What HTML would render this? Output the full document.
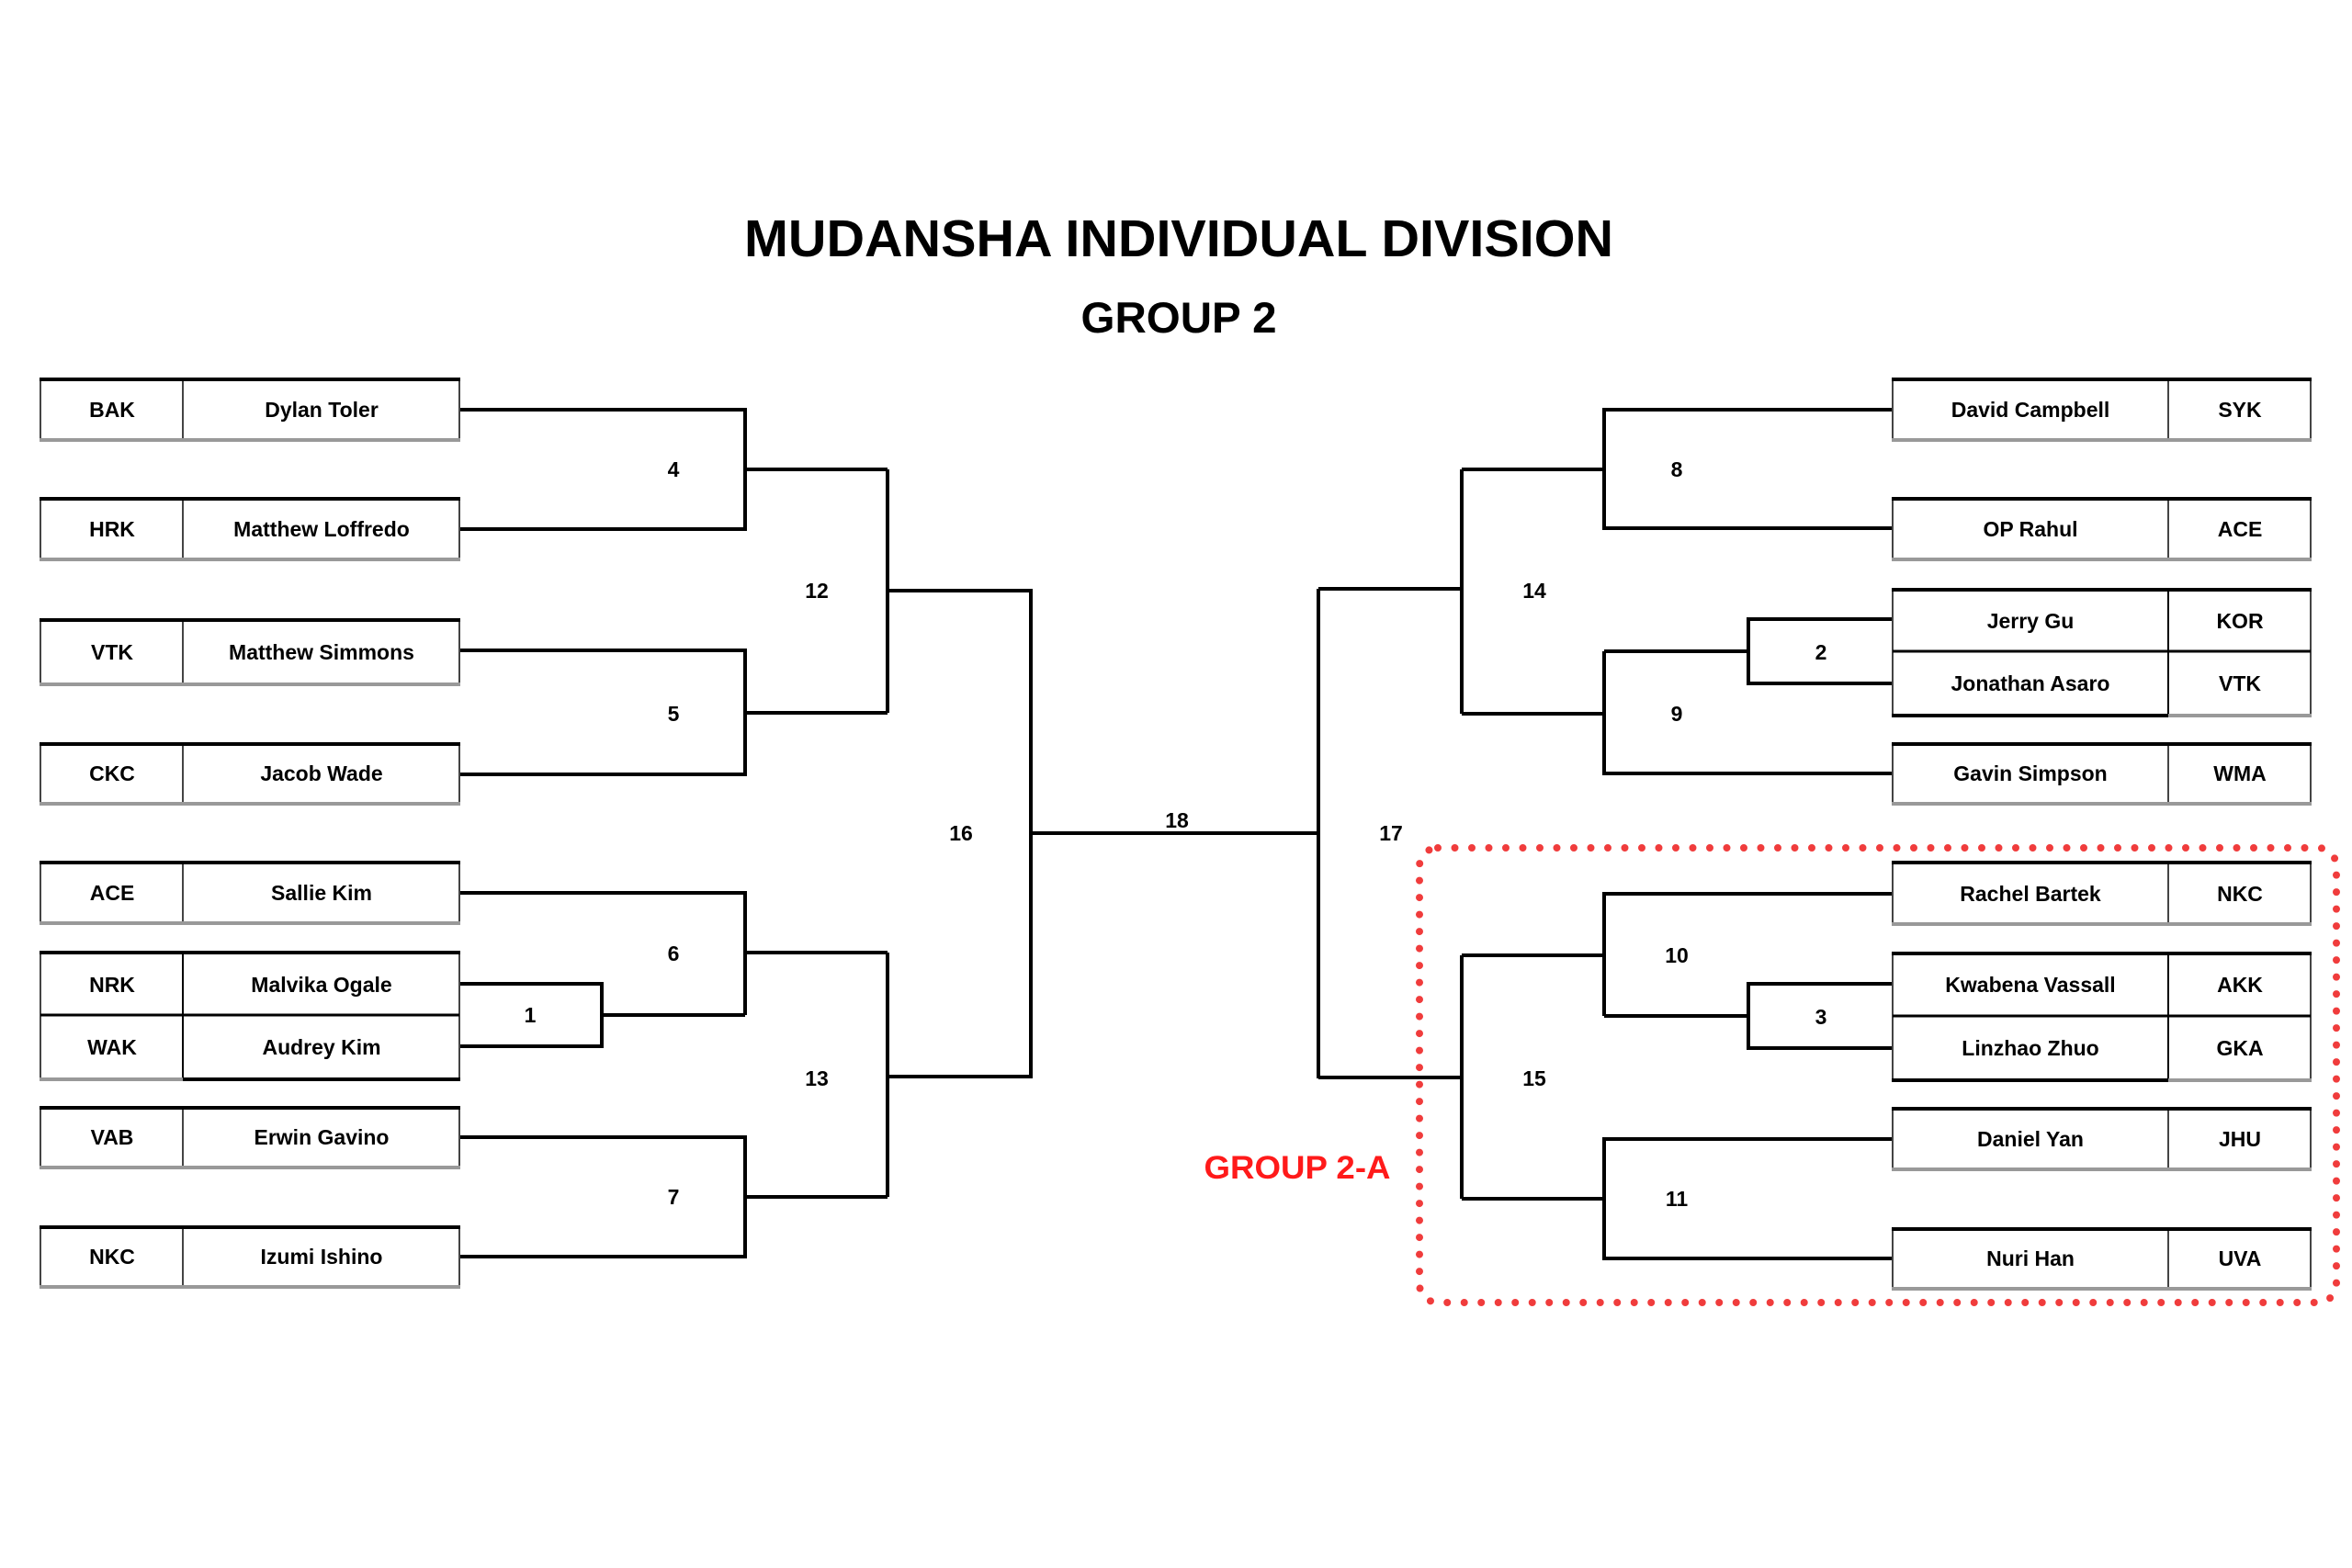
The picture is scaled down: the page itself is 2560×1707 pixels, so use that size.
<!DOCTYPE html>
<html><head><meta charset="utf-8"><style>
html,body{margin:0;padding:0;background:#fff;width:2560px;height:1707px;overflow:hidden}
svg{display:block}
text{font-family:"Liberation Sans",Arial,sans-serif;font-weight:bold;fill:#000}
</style></head><body>
<svg width="2560" height="1707" viewBox="0 0 2560 1707" xmlns="http://www.w3.org/2000/svg">
<text x="1283" y="279" font-size="57" text-anchor="middle" textLength="946" lengthAdjust="spacingAndGlyphs">MUDANSHA INDIVIDUAL DIVISION</text>
<text x="1283" y="362" font-size="47" text-anchor="middle" textLength="213" lengthAdjust="spacingAndGlyphs">GROUP 2</text>

<g fill="none" stroke="#000" stroke-width="4">
<!-- left bracket -->
<path d="M500 446H811V576H500M811 511H966"/>
<path d="M500 708H811V843H500M811 776H966"/>
<path d="M966 511V776M966 643H1122"/>
<path d="M500 1071H655V1139H500M655 1105H811"/>
<path d="M500 972H811V1105M811 1037H966"/>
<path d="M500 1238H811V1368H500M811 1303H966"/>
<path d="M966 1037V1303M966 1172H1122"/>
<path d="M1122 641V1174M1122 907H1435M1435 641V1174"/>
<!-- right bracket -->
<path d="M1435 641H1591M1591 511V777"/>
<path d="M2060 446H1746V575H2060M1746 511H1591"/>
<path d="M2060 674H1903V744H2060M1903 709H1746"/>
<path d="M1746 709V842H2060M1746 777H1591"/>
<path d="M1435 1173H1591M1591 1040V1305"/>
<path d="M2060 973H1746V1106M1746 1040H1591"/>
<path d="M2060 1071H1903V1141H2060M1903 1106H1746"/>
<path d="M2060 1240H1746V1370H2060M1746 1305H1591"/>
</g>

<!-- boxes -->
<g id="boxes">
<!-- left singles: y top,bottom -->
<g stroke-width="2" fill="none">
<rect x="44" y="413" width="456" height="66" stroke="#444"/><line x1="199" y1="413" x2="199" y2="479" stroke="#444"/>
<rect x="44" y="543" width="456" height="66" stroke="#444"/><line x1="199" y1="543" x2="199" y2="609" stroke="#444"/>
<rect x="44" y="675" width="456" height="70" stroke="#444"/><line x1="199" y1="675" x2="199" y2="745" stroke="#444"/>
<rect x="44" y="810" width="456" height="65" stroke="#444"/><line x1="199" y1="810" x2="199" y2="875" stroke="#444"/>
<rect x="44" y="939" width="456" height="66" stroke="#444"/><line x1="199" y1="939" x2="199" y2="1005" stroke="#444"/>
<rect x="44" y="1037" width="456" height="138" stroke="#444"/><line x1="199" y1="1037" x2="199" y2="1175" stroke="#000"/><line x1="44" y1="1105" x2="500" y2="1105" stroke="#000" stroke-width="3"/>
<rect x="44" y="1206" width="456" height="65" stroke="#444"/><line x1="199" y1="1206" x2="199" y2="1271" stroke="#444"/>
<rect x="44" y="1336" width="456" height="65" stroke="#444"/><line x1="199" y1="1336" x2="199" y2="1401" stroke="#444"/>
<!-- right -->
<rect x="2060" y="413" width="455" height="66" stroke="#444"/><line x1="2360" y1="413" x2="2360" y2="479" stroke="#444"/>
<rect x="2060" y="543" width="455" height="66" stroke="#444"/><line x1="2360" y1="543" x2="2360" y2="609" stroke="#444"/>
<rect x="2060" y="642" width="455" height="137" stroke="#444"/><line x1="2360" y1="642" x2="2360" y2="779" stroke="#000"/><line x1="2060" y1="709" x2="2515" y2="709" stroke="#000" stroke-width="3"/>
<rect x="2060" y="810" width="455" height="65" stroke="#444"/><line x1="2360" y1="810" x2="2360" y2="875" stroke="#444"/>
<rect x="2060" y="939" width="455" height="67" stroke="#444"/><line x1="2360" y1="939" x2="2360" y2="1006" stroke="#444"/>
<rect x="2060" y="1038" width="455" height="138" stroke="#444"/><line x1="2360" y1="1038" x2="2360" y2="1176" stroke="#000"/><line x1="2060" y1="1106" x2="2515" y2="1106" stroke="#000" stroke-width="3"/>
<rect x="2060" y="1207" width="455" height="66" stroke="#444"/><line x1="2360" y1="1207" x2="2360" y2="1273" stroke="#444"/>
<rect x="2060" y="1338" width="455" height="65" stroke="#444"/><line x1="2360" y1="1338" x2="2360" y2="1403" stroke="#444"/>
</g>
<g stroke-width="4">
<g stroke="#000">
<line x1="43" y1="413" x2="501" y2="413"/><line x1="43" y1="543" x2="501" y2="543"/><line x1="43" y1="675" x2="501" y2="675"/><line x1="43" y1="810" x2="501" y2="810"/><line x1="43" y1="939" x2="501" y2="939"/><line x1="43" y1="1037" x2="501" y2="1037"/><line x1="43" y1="1206" x2="501" y2="1206"/><line x1="43" y1="1336" x2="501" y2="1336"/>
<line x1="2059" y1="413" x2="2516" y2="413"/><line x1="2059" y1="543" x2="2516" y2="543"/><line x1="2059" y1="642" x2="2516" y2="642"/><line x1="2059" y1="810" x2="2516" y2="810"/><line x1="2059" y1="939" x2="2516" y2="939"/><line x1="2059" y1="1038" x2="2516" y2="1038"/><line x1="2059" y1="1207" x2="2516" y2="1207"/><line x1="2059" y1="1338" x2="2516" y2="1338"/>
</g>
<g stroke="#999">
<line x1="43" y1="479" x2="501" y2="479"/><line x1="43" y1="609" x2="501" y2="609"/><line x1="43" y1="745" x2="501" y2="745"/><line x1="43" y1="875" x2="501" y2="875"/><line x1="43" y1="1005" x2="501" y2="1005"/><line x1="43" y1="1175" x2="199" y2="1175"/><line x1="43" y1="1271" x2="501" y2="1271"/><line x1="43" y1="1401" x2="501" y2="1401"/>
<line x1="2059" y1="479" x2="2516" y2="479"/><line x1="2059" y1="609" x2="2516" y2="609"/><line x1="2360" y1="779" x2="2516" y2="779"/><line x1="2059" y1="875" x2="2516" y2="875"/><line x1="2059" y1="1006" x2="2516" y2="1006"/><line x1="2360" y1="1176" x2="2516" y2="1176"/><line x1="2059" y1="1273" x2="2516" y2="1273"/><line x1="2059" y1="1403" x2="2516" y2="1403"/>
</g>
<g stroke="#000"><line x1="199" y1="1175" x2="501" y2="1175"/><line x1="2059" y1="779" x2="2360" y2="779"/><line x1="2059" y1="1176" x2="2360" y2="1176"/></g>
</g>
</g>

<g font-size="23" text-anchor="middle">
<text x="122" y="454">BAK</text><text x="350" y="454">Dylan Toler</text>
<text x="122" y="584">HRK</text><text x="350" y="584">Matthew Loffredo</text>
<text x="122" y="718">VTK</text><text x="350" y="718">Matthew Simmons</text>
<text x="122" y="850">CKC</text><text x="350" y="850">Jacob Wade</text>
<text x="122" y="980">ACE</text><text x="350" y="980">Sallie Kim</text>
<text x="122" y="1080">NRK</text><text x="350" y="1080">Malvika Ogale</text>
<text x="122" y="1148">WAK</text><text x="350" y="1148">Audrey Kim</text>
<text x="122" y="1246">VAB</text><text x="350" y="1246">Erwin Gavino</text>
<text x="122" y="1376">NKC</text><text x="350" y="1376">Izumi Ishino</text>

<text x="2210" y="454">David Campbell</text><text x="2438" y="454">SYK</text>
<text x="2210" y="584">OP Rahul</text><text x="2438" y="584">ACE</text>
<text x="2210" y="684">Jerry Gu</text><text x="2438" y="684">KOR</text>
<text x="2210" y="752">Jonathan Asaro</text><text x="2438" y="752">VTK</text>
<text x="2210" y="850">Gavin Simpson</text><text x="2438" y="850">WMA</text>
<text x="2210" y="981">Rachel Bartek</text><text x="2438" y="981">NKC</text>
<text x="2210" y="1080">Kwabena Vassall</text><text x="2438" y="1080">AKK</text>
<text x="2210" y="1149">Linzhao Zhuo</text><text x="2438" y="1149">GKA</text>
<text x="2210" y="1248">Daniel Yan</text><text x="2438" y="1248">JHU</text>
<text x="2210" y="1378">Nuri Han</text><text x="2438" y="1378">UVA</text>

<text x="733" y="519">4</text><text x="733" y="785">5</text><text x="889" y="651">12</text>
<text x="577" y="1113">1</text><text x="733" y="1046">6</text><text x="733" y="1311">7</text><text x="889" y="1182">13</text>
<text x="1046" y="915">16</text><text x="1281" y="901">18</text><text x="1514" y="915">17</text>
<text x="1825" y="519">8</text><text x="1670" y="651">14</text><text x="1982" y="718">2</text><text x="1825" y="785">9</text>
<text x="1825" y="1048">10</text><text x="1982" y="1115">3</text><text x="1670" y="1182">15</text><text x="1825" y="1313">11</text>
</g>

<rect x="1545" y="923" width="998" height="495" rx="20" ry="20" fill="none" stroke="#f03c3c" stroke-width="8" stroke-linecap="round" stroke-dasharray="0 18.5"/>
<text x="1412" y="1283" font-size="35" text-anchor="middle" textLength="203" lengthAdjust="spacingAndGlyphs" style="fill:#ff1a1a">GROUP 2-A</text>
</svg>
</body></html>
